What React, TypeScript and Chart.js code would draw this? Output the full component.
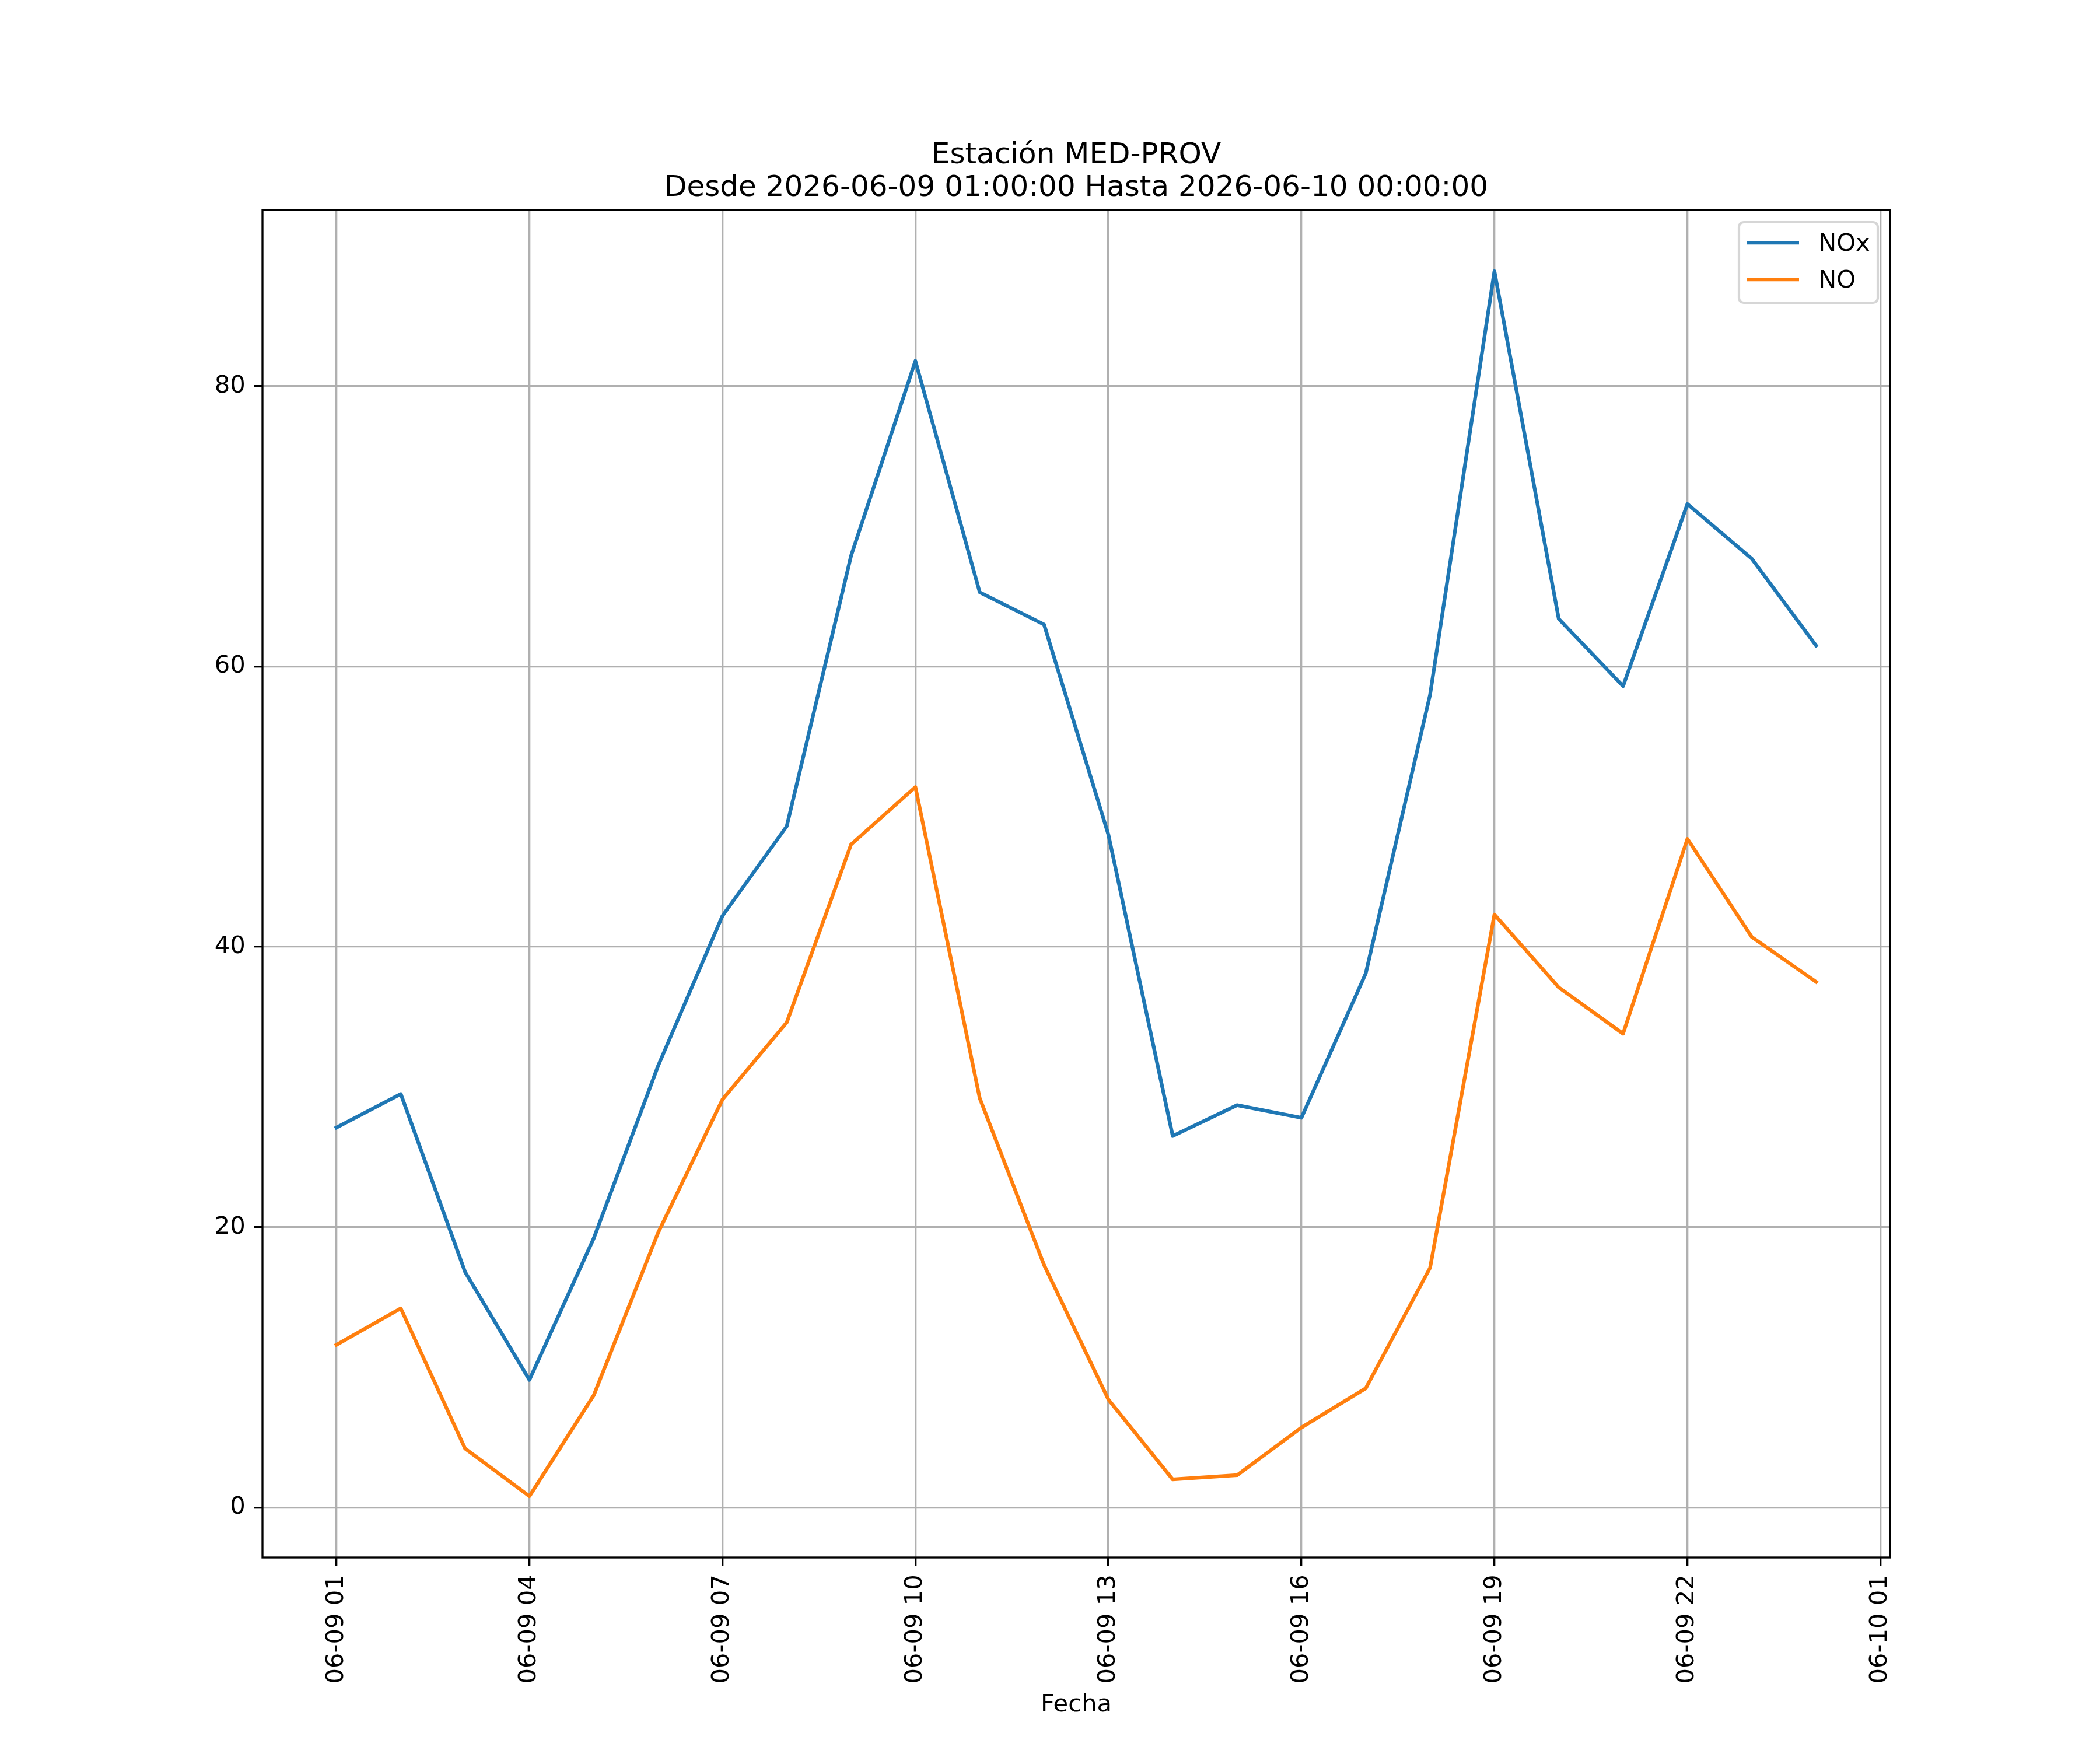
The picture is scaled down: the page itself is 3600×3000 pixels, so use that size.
import { useEffect, useRef } from 'react';
import { Chart, registerables } from 'chart.js';

Chart.register(...registerables);

// Hourly values, 06-09 01:00 .. 06-10 00:00
const hours = [
    '06-09 01', '06-09 02', '06-09 03', '06-09 04', '06-09 05', '06-09 06',
    '06-09 07', '06-09 08', '06-09 09', '06-09 10', '06-09 11', '06-09 12',
    '06-09 13', '06-09 14', '06-09 15', '06-09 16', '06-09 17', '06-09 18',
    '06-09 19', '06-09 20', '06-09 21', '06-09 22', '06-09 23', '06-10 00',
];
const noxValues = [
    27.1, 29.5, 16.8, 9.1, 19.2, 31.5, 42.2, 48.6, 67.9, 81.8, 65.3, 63.0,
    48.0, 26.5, 28.7, 27.8, 38.1, 58.0, 88.2, 63.4, 58.6, 71.6, 67.7, 61.5,
];
const noValues = [
    11.6, 14.2, 4.2, 0.8, 8.0, 19.6, 29.1, 34.6, 47.3, 51.4, 29.2, 17.3,
    7.7, 2.0, 2.3, 5.7, 8.5, 17.1, 42.3, 37.1, 33.8, 47.7, 40.7, 37.5,
];
const xTickHours = [0, 3, 6, 9, 12, 15, 18, 21, 24];
const xTickLabels = [
    '06-09 01', '06-09 04', '06-09 07', '06-09 10', '06-09 13',
    '06-09 16', '06-09 19', '06-09 22', '06-10 01',
];
const yTicks = [0, 20, 40, 60, 80];
const titleLines = ['Estación MED-PROV', 'Desde 2026-06-09 01:00:00 Hasta 2026-06-10 00:00:00'];

const FONT = '"DejaVu Sans"';
const PT = 300 / 72; // figure drawn at 300 dpi

// title, spines and legend drawn like matplotlib
const decorations = {
    id: 'decorations',
    afterDraw(chart: Chart) {
        const { ctx, chartArea: a } = chart;
        ctx.save();
        // spines
        ctx.strokeStyle = '#000';
        ctx.lineWidth = 0.8 * PT;
        ctx.lineJoin = 'miter';
        ctx.strokeRect(a.left, a.top, a.right - a.left, a.bottom - a.top);

        // title
        ctx.fillStyle = '#000';
        ctx.font = `${12 * PT}px ${FONT}`;
        ctx.textAlign = 'center';
        ctx.textBaseline = 'alphabetic';
        const cx = (a.left + a.right) / 2;
        ctx.fillText(titleLines[0], cx, 280);
        ctx.fillText(titleLines[1], cx, 336);

        // legend
        const x0 = 2981, y0 = 381, w = 238, h = 138, r = 8;
        ctx.beginPath();
        ctx.roundRect(x0, y0, w, h, r);
        ctx.fillStyle = 'rgba(255,255,255,0.8)';
        ctx.fill();
        ctx.strokeStyle = 'rgba(204,204,204,0.8)';
        ctx.lineWidth = PT;
        ctx.stroke();
        ctx.font = `${10 * PT}px ${FONT}`;
        ctx.textAlign = 'left';
        const rows = [416, 479];
        chart.data.datasets.forEach((ds, i) => {
            ctx.beginPath();
            ctx.strokeStyle = ds.borderColor as string;
            ctx.lineWidth = 1.5 * PT;
            ctx.lineCap = 'butt';
            ctx.moveTo(2994, rows[i]);
            ctx.lineTo(3084, rows[i]);
            ctx.stroke();
            ctx.fillStyle = '#000';
            ctx.fillText(ds.label ?? '', 3117, rows[i] + 14);
        });
        ctx.restore();
    },
};

const NoxChart: React.FC = () => {
    const canvasRef = useRef<HTMLCanvasElement>(null);
    const chartRef = useRef<Chart | null>(null);

    useEffect(() => {
        if (!canvasRef.current) return;
        const ctx = canvasRef.current.getContext('2d');
        if (!ctx) return;

        // matplotlib style autoscale: 5% margins
        const all = [...noxValues, ...noValues];
        const lo = Math.min(...all);
        const hi = Math.max(...all);
        const pad = 0.05 * (hi - lo);
        const xPad = 0.05 * (hours.length - 1);

        const tickFont = { family: FONT, size: 10 * PT };

        chartRef.current = new Chart(ctx, {
            type: 'line',
            data: {
                datasets: [
                    {
                        label: 'NOx',
                        data: noxValues.map((v, i) => ({ x: i, y: v })),
                        borderColor: '#1f77b4',
                        borderWidth: 1.5 * PT,
                        pointRadius: 0,
                        tension: 0,
                        borderJoinStyle: 'round',
                        borderCapStyle: 'square',
                    },
                    {
                        label: 'NO',
                        data: noValues.map((v, i) => ({ x: i, y: v })),
                        borderColor: '#ff7f0e',
                        borderWidth: 1.5 * PT,
                        pointRadius: 0,
                        tension: 0,
                        borderJoinStyle: 'round',
                        borderCapStyle: 'square',
                    },
                ],
            },
            options: {
                responsive: false,
                animation: false,
                devicePixelRatio: 1,
                layout: { padding: { left: 0, right: 360, top: 360, bottom: 0 } },
                plugins: {
                    legend: { display: false },
                    title: { display: false },
                    tooltip: { enabled: false },
                },
                scales: {
                    x: {
                        type: 'linear',
                        min: -xPad,
                        max: hours.length - 1 + xPad,
                        afterBuildTicks: (scale) => {
                            scale.ticks = xTickHours.map(v => ({ value: v }));
                        },
                        afterFit: (scale) => { scale.height = 330; },
                        ticks: {
                            autoSkip: false,
                            maxRotation: 90,
                            minRotation: 90,
                            padding: 3.5 * PT,
                            color: '#000',
                            font: tickFont,
                            callback: (value) => xTickLabels[xTickHours.indexOf(Number(value))] ?? '',
                        },
                        grid: {
                            color: '#b0b0b0',
                            lineWidth: 0.8 * PT,
                            tickLength: 3.5 * PT,
                            tickColor: '#000',
                            tickWidth: 0.8 * PT,
                        },
                        border: { display: false },
                        title: {
                            display: true,
                            text: 'Fecha',
                            color: '#000',
                            font: tickFont,
                            padding: { top: 0, bottom: 52 },
                        },
                    },
                    y: {
                        type: 'linear',
                        min: lo - pad,
                        max: hi + pad,
                        afterBuildTicks: (scale) => {
                            scale.ticks = yTicks.map(v => ({ value: v }));
                        },
                        afterFit: (scale) => { scale.width = 450; },
                        ticks: {
                            padding: 3.5 * PT,
                            color: '#000',
                            font: tickFont,
                        },
                        grid: {
                            color: '#b0b0b0',
                            lineWidth: 0.8 * PT,
                            tickLength: 3.5 * PT,
                            tickColor: '#000',
                            tickWidth: 0.8 * PT,
                        },
                        border: { display: false },
                    },
                },
            },
            plugins: [decorations],
        });

        return () => {
            if (chartRef.current) {
                chartRef.current.destroy();
                chartRef.current = null;
            }
        };
    }, []);

    return (
        <div style={{ position: 'fixed', left: 0, top: 0, width: 3600, height: 3000, background: '#fff' }}>
            <canvas ref={canvasRef} width={3600} height={3000} style={{ width: 3600, height: 3000 }}></canvas>
        </div>
    );
};

export default function App() {
    return <NoxChart />;
}
